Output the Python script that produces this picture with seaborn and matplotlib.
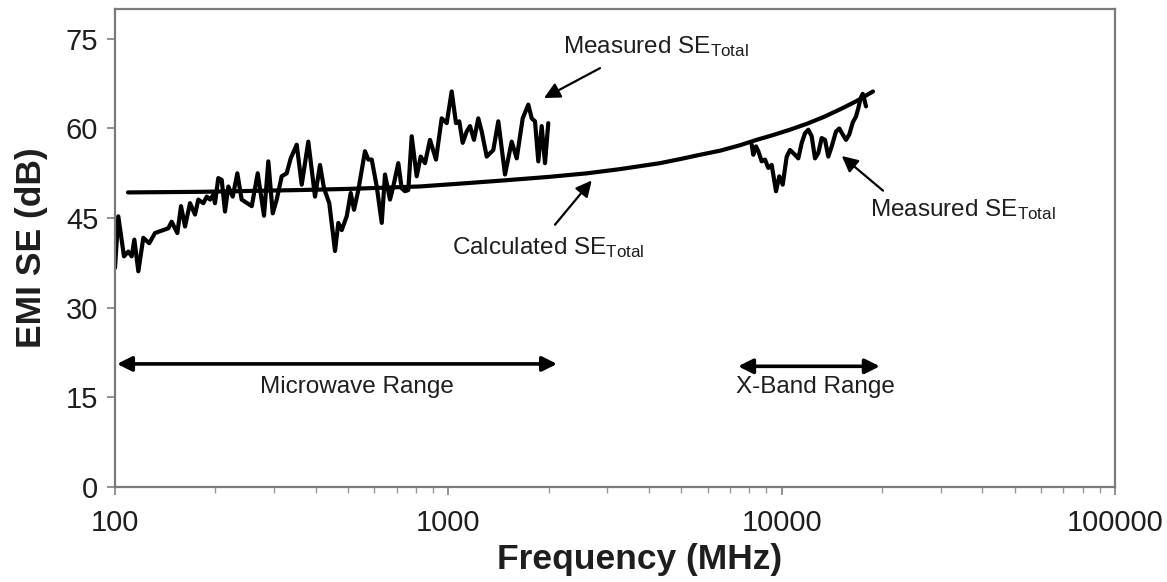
import numpy as np
import pandas as pd
import matplotlib
matplotlib.use("Agg")
import matplotlib.pyplot as plt
import seaborn as sns

# Measured shielding effectiveness, microwave sweep (MHz, dB)
mw_freq = [100.0, 102.3, 106.4, 109.6, 112.2, 114.3, 117.5, 121.6, 126.7, 131.8,
           139.6, 144.5, 147.9, 153.8, 157.8, 162.2, 167.9, 173.8, 177.8, 184.1,
           188.5, 192.8, 197.2, 199.5, 204.1, 209.0, 213.8, 218.8, 225.5, 232.8,
           239.9, 257.2, 268.0, 279.9, 288.4, 297.3, 305.6, 316.3, 327.4, 336.6,
           350.9, 363.2, 380.1, 398.1, 412.1, 423.6, 439.4, 457.1, 467.7, 478.8,
           495.6, 509.5, 521.2, 537.0, 562.3, 575.4, 589.1, 609.8, 631.3, 645.7,
           668.3, 683.7, 707.7, 724.6, 741.3, 758.4, 776.4, 803.7, 826.2, 851.1,
           881.0, 918.3, 955.2, 988.8, 1023.5, 1054.4, 1078.7, 1104.3, 1135.3, 1161.4,
           1193.9, 1230.0, 1259.2, 1303.5, 1364.3, 1412.3, 1479.1, 1549.2, 1603.7, 1671.5,
           1737.4, 1778.7, 1819.7, 1861.7, 1905.9, 1949.8, 1994.7]
mw_se = [36.7, 45.3, 38.6, 39.4, 38.6, 41.4, 36.1, 41.7, 40.8, 42.5,
         43.0, 43.3, 44.4, 42.5, 47.0, 43.6, 47.5, 45.6, 48.1, 47.5,
         48.6, 48.1, 48.9, 47.5, 51.7, 51.4, 46.1, 50.3, 48.6, 52.5,
         48.1, 47.0, 52.5, 45.4, 54.5, 45.8, 48.1, 52.0, 52.5, 55.0,
         57.3, 50.6, 57.8, 48.6, 53.9, 50.0, 47.5, 39.5, 44.2, 43.0,
         45.3, 49.2, 46.4, 49.7, 56.2, 54.8, 54.8, 50.3, 44.2, 52.3,
         48.1, 50.3, 54.2, 50.0, 49.5, 49.7, 58.7, 52.0, 55.3, 54.2,
         58.1, 54.8, 61.7, 60.9, 66.2, 60.9, 61.2, 57.6, 59.5, 60.4,
         58.1, 61.7, 59.5, 55.3, 56.4, 61.2, 52.3, 57.8, 55.0, 61.7,
         64.0, 61.7, 61.2, 54.5, 60.4, 54.2, 60.9]

# Measured shielding effectiveness, X-band sweep (MHz, dB)
xb_freq = [8131, 8221, 8375, 8510, 8712, 8913, 9118, 9335, 9616, 9838,
           10072, 10354, 10593, 10965, 11218, 11485, 11749, 12020, 12306, 12589,
           12879, 13185, 13490, 13801, 14128, 14555, 14890, 15244, 15596, 15955,
           16334, 16711, 16979, 17263, 17504, 17660, 17906]
xb_se = [57.3, 55.6, 57.0, 56.2, 54.5, 54.8, 53.4, 53.9, 49.5, 52.0,
         50.6, 55.3, 56.4, 55.6, 55.0, 57.6, 59.2, 59.8, 58.7, 55.0,
         55.9, 58.4, 58.1, 55.3, 57.0, 59.5, 60.0, 59.0, 58.1, 59.0,
         61.0, 62.0, 63.4, 65.1, 65.8, 65.1, 63.7]

# Calculated total shielding effectiveness (MHz, dB)
calc_freq = [109.4, 179.9, 358.9, 507.0, 822.2, 1100, 1459, 2000, 2606, 3273,
             4315, 4977, 5689, 6548, 7499, 8413, 9419, 10593, 11912, 13336,
             14962, 16788, 18793]
calc_se = [49.3, 49.4, 49.7, 49.9, 50.3, 50.8, 51.3, 51.9, 52.5, 53.2,
           54.2, 54.9, 55.6, 56.3, 57.2, 58.1, 58.9, 59.8, 60.8, 61.9,
           63.2, 64.6, 66.2]

y_ticks = [0, 15, 30, 45, 60, 75]
x_ticks = [100, 1000, 10000, 100000]
x_tick_labels = ["100", "1000", "10000", "100000"]

sns.set_theme(style="white")
plt.rcParams["font.family"] = ["Liberation Sans", "DejaVu Sans"]
plt.rcParams["mathtext.fontset"] = "custom"
plt.rcParams["mathtext.rm"] = "Liberation Sans"
plt.rcParams["mathtext.it"] = "Liberation Sans:italic"
plt.rcParams["mathtext.bf"] = "Liberation Sans:bold"

fig = plt.figure(figsize=(11.67, 5.82), dpi=100)
ax = fig.add_axes([115 / 1167, 95 / 582, 1000 / 1167, 478 / 582])

mw = pd.DataFrame({"f": mw_freq, "se": mw_se})
xb = pd.DataFrame({"f": xb_freq, "se": xb_se})
calc = pd.DataFrame({"f": calc_freq, "se": calc_se})

line_kw = dict(color="black", linewidth=3.0, estimator=None, sort=False, ax=ax)
sns.lineplot(data=mw, x="f", y="se", **line_kw)
sns.lineplot(data=xb, x="f", y="se", **line_kw)
sns.lineplot(data=calc, x="f", y="se", **line_kw)
for ln in ax.get_lines():
    ln.set_solid_joinstyle("round")
    ln.set_solid_capstyle("round")

ax.set_xscale("log")
ax.set_xlim(100, 100000)
ax.set_ylim(0, 80)
ax.set_xticks(x_ticks)
ax.set_xticklabels(x_tick_labels)
ax.set_yticks(y_ticks)

text_color = "#1e1e1e"
ax.tick_params(axis="both", which="major", labelsize=21, colors="#7f7f7f",
               labelcolor=text_color, direction="out", length=6, width=1.2,
               bottom=True, left=True)
ax.tick_params(axis="x", which="minor", direction="out", length=4, width=1.0,
               colors="#9a9a9a", bottom=True)
ax.tick_params(axis="x", pad=10)
ax.tick_params(axis="y", pad=6)

for side in ["left", "right", "top", "bottom"]:
    ax.spines[side].set_visible(True)
    ax.spines[side].set_color("#7a7a7a")
    ax.spines[side].set_linewidth(1.6)

ax.set_xlabel("Frequency (MHz)", fontsize=25.5, fontweight="bold",
              color=text_color)
ax.set_ylabel("EMI SE (dB)", fontsize=25.5, fontweight="bold",
              color=text_color)
ax.xaxis.set_label_coords(0.525, -0.118)
ax.yaxis.set_label_coords(-0.067, 0.5)

ann_size = 17.5
sub = r"SE$_{\mathregular{Total}}$"
head = dict(arrowstyle="-|>", color="black", lw=1.6, mutation_scale=24,
            shrinkA=0, shrinkB=0)
span = dict(arrowstyle="<|-|>", color="black", lw=2.6, mutation_scale=22,
            shrinkA=0, shrinkB=0)

# Label and pointer for the measured microwave trace
ax.annotate("", xy=(1936, 65.1), xytext=(2851, 70.1), arrowprops=head)
ax.text(2210, 73.7, "Measured " + sub, fontsize=ann_size, color=text_color,
        ha="left", va="center")

# Label and pointer for the calculated curve
ax.annotate("", xy=(2692, 51.3), xytext=(2089, 43.9), arrowprops=head)
ax.text(1028, 40.1, "Calculated " + sub, fontsize=ann_size, color=text_color,
        ha="left", va="center")

# Label and pointer for the measured X-band trace
ax.annotate("", xy=(15150, 55.4), xytext=(20140, 49.6), arrowprops=head)
ax.text(18400, 46.4, "Measured " + sub, fontsize=ann_size, color=text_color,
        ha="left", va="center")

# Frequency range markers
ax.annotate("", xy=(101.4, 20.6), xytext=(2119, 20.6), arrowprops=span)
ax.text(532, 16.8, "Microwave Range", fontsize=ann_size, color=text_color,
        ha="center", va="center")

ax.annotate("", xy=(7400, 20.2), xytext=(19700, 20.2), arrowprops=span)
ax.text(12589, 16.8, "X-Band Range", fontsize=ann_size, color=text_color,
        ha="center", va="center")

fig.savefig("out.png", dpi=100, facecolor="white")
